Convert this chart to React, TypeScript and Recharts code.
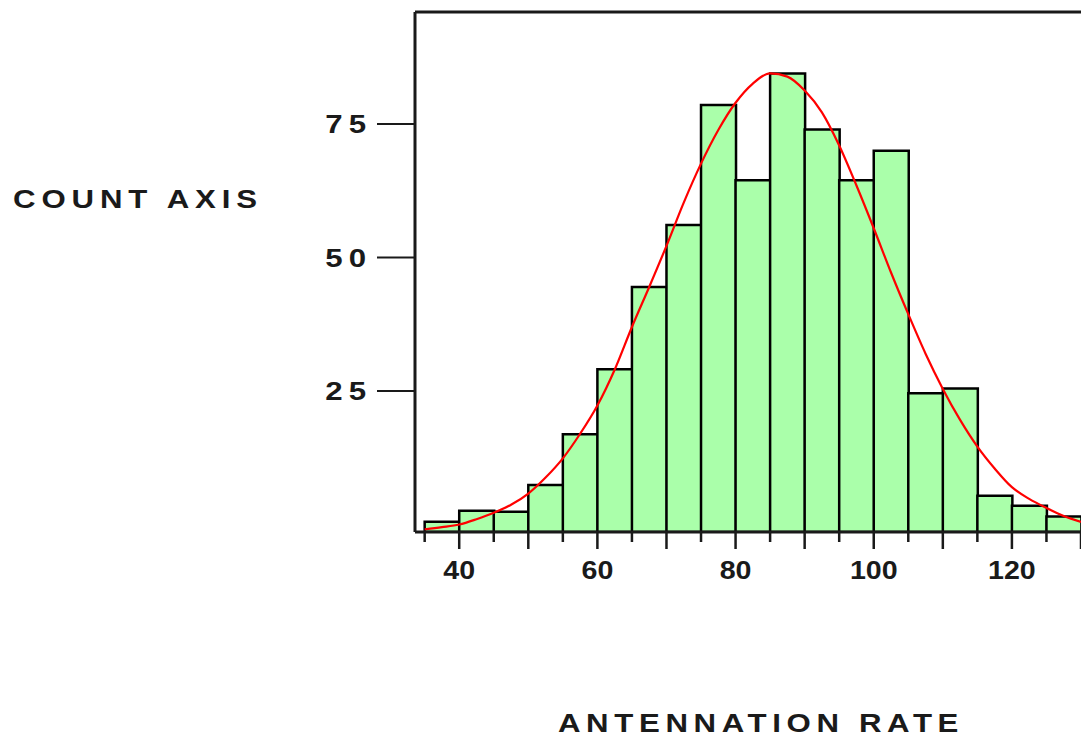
import { ComposedChart, Bar, Line, XAxis, YAxis, ReferenceLine, Label } from 'recharts'

// histogram bins (left edge, width 5) and their counts
const binStarts = [35, 40, 45, 50, 55, 60, 65, 70, 75, 80, 85, 90, 95, 100, 105, 110, 115, 120, 125]
const binCounts = [0.5, 2.6, 2.4, 7.4, 16.9, 29.1, 44.5, 56.1, 78.6, 64.5, 84.5, 74.0, 64.5, 70.0, 24.6, 25.5, 5.4, 3.5, 1.5]
const binWidth = 5

// fitted curve, sampled every 2.5
const fitX = [35, 37.5, 40, 42.5, 45, 47.5, 50, 52.5, 55, 57.5, 60, 62.5, 65, 67.5, 70, 72.5, 75, 77.5, 80, 82.5, 85, 87.5, 90, 92.5, 95, 97.5, 100, 102.5, 105, 107.5, 110, 112.5, 115, 117.5, 120, 122.5, 125, 127.5, 130]
const fitY = [-0.9, -0.5, 0.0, 1.0, 2.2, 3.7, 5.8, 8.8, 12.4, 17.0, 22.3, 29.0, 37.0, 44.5, 52.2, 60.3, 67.6, 73.9, 79.0, 82.6, 84.5, 83.9, 81.3, 77.2, 71.0, 63.5, 55.5, 47.2, 39.4, 32.0, 25.4, 19.6, 14.6, 10.5, 7.0, 4.8, 3.1, 1.6, 0.5]

const xTicks = [35, 40, 45, 50, 55, 60, 65, 70, 75, 80, 85, 90, 95, 100, 105, 110, 115, 120, 125, 130]
const xLabelStep = 20
const yTicks = [25, 50, 75]

const xDomain: [number, number] = [33.6, 130]
const yDomain: [number, number] = [-1.4, 96]

const bins = binStarts.map((s, i) => ({ mid: s + binWidth / 2, count: binCounts[i] }))
const fit = fitX.map((x, i) => ({ mid: x, fit: fitY[i] }))

const FONT = '"Liberation Sans", Arial, Helvetica, sans-serif'
const INK = '#1a1a1a'

// bold text, stretched a little horizontally
const Wide = ({ x, y, sx, anchor, ls, children }: any) => (
  <text
    transform={`translate(${x},${y}) scale(${sx},1)`}
    textAnchor={anchor}
    fontFamily={FONT}
    fontWeight="bold"
    fontSize={26}
    fill={INK}
    style={{ letterSpacing: ls }}
  >
    {children}
  </text>
)

const XTick = (props: any) => {
  const { x, y, payload } = props
  const v = payload.value
  const major = v % 10 === 0
  return (
    <g>
      <line x1={x} x2={x} y1={y} y2={y + (major ? 17 : 10)} stroke={INK} strokeWidth={2.5} />
      {v % xLabelStep === 0 && (
        <Wide x={x} y={y + 47} sx={1.1} anchor="middle" ls={0}>
          {v}
        </Wide>
      )}
    </g>
  )
}

const YTick = (props: any) => {
  const { x, y, payload } = props
  return (
    <Wide x={x - 3} y={y + 9} sx={1.2} anchor="end" ls={5}>
      {payload.value}
    </Wide>
  )
}

const xTitle = (props: any) => {
  const { viewBox } = props
  return (
    <Wide x={viewBox.x + 346} y={viewBox.y + 200} sx={1.2} anchor="middle" ls={4.7}>
      ANTENNATION RATE
    </Wide>
  )
}

const yTitle = (props: any) => {
  const { viewBox } = props
  return (
    <Wide x={viewBox.x + 13} y={viewBox.y + 196} sx={1.2} anchor="start" ls={4.9}>
      COUNT AXIS
    </Wide>
  )
}

export default function App() {
  return (
    <div style={{ position: 'absolute', left: 0, top: 0, width: 1081, height: 744, background: '#fff' }}>
      <ComposedChart width={1081} height={744} data={bins} margin={{ top: 12, right: 0, bottom: 0, left: 0 }} barCategoryGap={0} barGap={0}>
        <XAxis
          xAxisId="bins"
          dataKey="mid"
          type="number"
          domain={xDomain}
          allowDataOverflow
          ticks={xTicks}
          interval={0}
          tick={XTick}
          tickLine={false}
          tickSize={0}
          tickMargin={0}
          height={212}
          axisLine={{ stroke: INK, strokeWidth: 3 }}
        >
          <Label content={xTitle} />
        </XAxis>
        <XAxis xAxisId="fit" dataKey="mid" type="number" domain={xDomain} allowDataOverflow hide />
        <YAxis
          type="number"
          domain={yDomain}
          allowDataOverflow
          ticks={yTicks}
          interval={0}
          tick={YTick}
          tickSize={38}
          tickMargin={2}
          tickLine={{ stroke: INK, strokeWidth: 2 }}
          width={415}
          axisLine={{ stroke: INK, strokeWidth: 3 }}
        >
          <Label content={yTitle} />
        </YAxis>
        <ReferenceLine xAxisId="bins" y={yDomain[1]} stroke={INK} strokeWidth={3} />
        <Bar
          xAxisId="bins"
          dataKey={(d: any) => [yDomain[0], d.count]}
          fill="#aaffaa"
          stroke="#000"
          strokeWidth={2.5}
          isAnimationActive={false}
        />
        <Line
          xAxisId="fit"
          data={fit}
          dataKey="fit"
          type="monotone"
          stroke="#ff0000"
          strokeWidth={2.2}
          dot={false}
          activeDot={false}
          isAnimationActive={false}
        />
      </ComposedChart>
    </div>
  )
}
